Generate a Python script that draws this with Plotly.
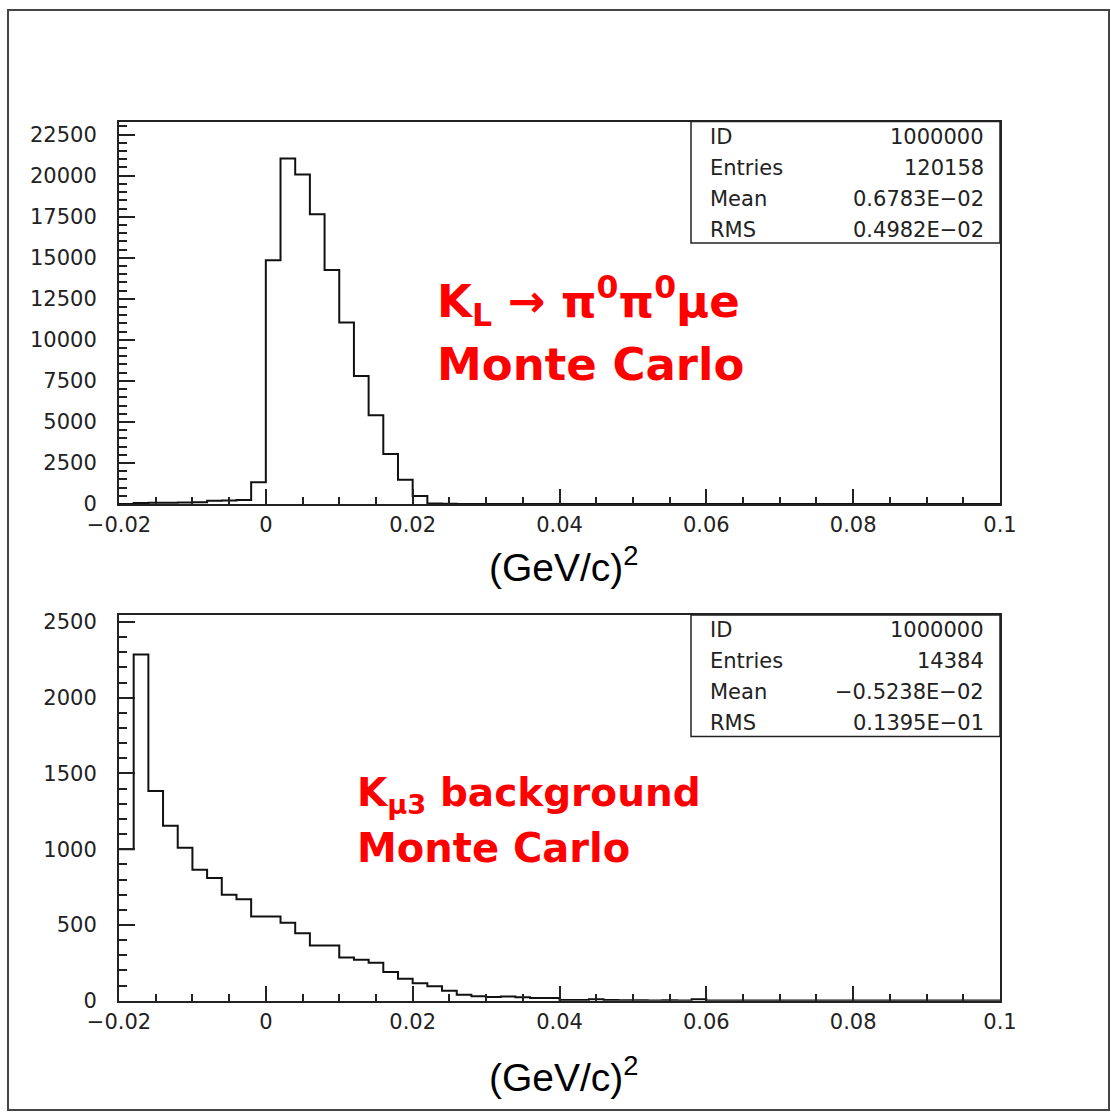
import plotly.graph_objects as go

W, H = 1111, 1116

# ---------------- data ----------------
X_MIN = -0.02
BIN_WIDTH = 0.002
N_BINS = 60

# K_L -> pi0 pi0 mu e Monte Carlo (bins of 0.002 from -0.02 to 0.1)
signal_counts = [
    0, 60, 70, 80, 90, 100, 200, 220, 250, 1320,
    14850, 21050, 20070, 17650, 14250, 11050, 7800, 5400, 3050, 1470,
    490, 30, 10, 0, 0, 0, 0, 0, 0, 0,
    0, 0, 0, 0, 0, 0, 0, 0, 0, 0,
    0, 0, 0, 0, 0, 0, 0, 0, 0, 0,
    0, 0, 0, 0, 0, 0, 0, 0, 0, 0,
]

# K_mu3 background Monte Carlo
background_counts = [
    1000, 2285, 1385, 1155, 1010, 865, 810, 700, 670, 555,
    555, 515, 445, 365, 365, 285, 270, 250, 190, 145,
    115, 95, 65, 40, 30, 25, 28, 22, 18, 18,
    5, 4, 10, 4, 3, 3, 2, 3, 2, 10,
    2, 1, 2, 1, 1, 2, 1, 1, 1, 2,
    1, 1, 1, 2, 1, 1, 1, 1, 1, 1,
]

signal_stats = [("ID", "1000000"), ("Entries", "120158"),
                ("Mean", "0.6783E\u221202"), ("RMS", "0.4982E\u221202")]
background_stats = [("ID", "1000000"), ("Entries", "14384"),
                    ("Mean", "\u22120.5238E\u221202"), ("RMS", "0.1395E\u221201")]

bin_edges = [X_MIN + i * BIN_WIDTH for i in range(N_BINS + 1)]

# ---------------- helpers ----------------
def px(x):
    return x / W

def py(y):
    return 1 - y / H

TEXT = "#222222"
TICKFONT = dict(family="DejaVu Sans", size=21, color=TEXT)

fig = go.Figure()

fig.add_trace(go.Scatter(
    x=bin_edges, y=signal_counts + [signal_counts[-1]],
    mode="lines", line=dict(shape="hv", color="#111111", width=2),
    xaxis="x", yaxis="y", showlegend=False, hoverinfo="skip"))
fig.add_trace(go.Scatter(
    x=bin_edges, y=background_counts + [background_counts[-1]],
    mode="lines", line=dict(shape="hv", color="#111111", width=2),
    xaxis="x2", yaxis="y2", showlegend=False, hoverinfo="skip"))

def xaxis_cfg(anchor):
    return dict(
        domain=[px(119), px(1000)], anchor=anchor, automargin=False,
        range=[-0.02, 0.1], tick0=0, dtick=0.02,
        ticks="inside", ticklen=15, tickwidth=1.5, tickcolor="#222",
        minor=dict(dtick=0.005, ticks="inside", ticklen=7, tickwidth=1.5, tickcolor="#222"),
        showline=True, mirror=True, linewidth=2, linecolor="#222",
        showgrid=False, zeroline=False, tickfont=TICKFONT,
        ticklabelstandoff=1,
    )

def yaxis_cfg(anchor, top, bottom, rng, dtick, mdtick):
    return dict(
        domain=[py(bottom), py(top)], anchor=anchor, automargin=False,
        range=rng, tick0=0, dtick=dtick, tickformat="d",
        ticks="inside", ticklen=16, tickwidth=1.5, tickcolor="#222",
        minor=dict(dtick=mdtick, ticks="inside", ticklen=8, tickwidth=1.5, tickcolor="#222"),
        showline=True, mirror=True, linewidth=2, linecolor="#222",
        showgrid=False, zeroline=False, tickfont=TICKFONT,
        ticklabelstandoff=16,
    )

fig.update_layout(
    width=W, height=H,
    margin=dict(l=0, r=0, t=0, b=0, pad=0, autoexpand=False),
    paper_bgcolor="white", plot_bgcolor="white",
    xaxis=xaxis_cfg("y"),
    yaxis=yaxis_cfg("x", 121.5, 504, [0, 23300], 2500, 500),
    xaxis2=xaxis_cfg("y2"),
    yaxis2=yaxis_cfg("x2", 615, 1000.7, [0, 2546], 500, 100),
)

shapes = []
annotations = []

# outer frame
shapes.append(dict(type="rect", xref="paper", yref="paper",
                   x0=px(8), x1=px(1109), y0=py(1110), y1=py(10),
                   line=dict(color="#444", width=2), fillcolor="rgba(0,0,0,0)"))

# stats boxes
def stats_box(top, rows):
    shapes.append(dict(type="rect", xref="paper", yref="paper",
                       x0=px(691), x1=px(1000), y0=py(top + 121.5), y1=py(top),
                       line=dict(color="#222", width=1.5), fillcolor="white"))
    for i, (lab, val) in enumerate(rows):
        yc = top + 15 + 31 * i
        annotations.append(dict(xref="paper", yref="paper", x=px(708), y=py(yc),
                                text=lab, showarrow=False, xanchor="left", yanchor="middle",
                                font=TICKFONT))
        annotations.append(dict(xref="paper", yref="paper", x=px(986), y=py(yc),
                                text=val, showarrow=False, xanchor="right", yanchor="middle",
                                font=TICKFONT))

stats_box(121.5, signal_stats)
stats_box(615, background_stats)

# axis titles
for yc in (564, 1074):
    annotations.append(dict(xref="paper", yref="paper", x=px(564), y=py(yc),
                            text="(GeV/c)<sup>2</sup>", showarrow=False,
                            xanchor="center", yanchor="middle",
                            font=dict(family="Liberation Sans", size=39, color="black")))

RED = dict(family="DejaVu Sans", color="#ff0000")
annotations += [
    dict(xref="paper", yref="paper", x=px(435), y=py(301),
         text="<b>K<sub>L</sub> \u2192 \u03c0<sup>0</sup>\u03c0<sup>0</sup>\u03bce</b>",
         showarrow=False, xanchor="left", yanchor="middle", font=dict(size=45, **RED)),
    dict(xref="paper", yref="paper", x=px(435), y=py(364),
         text="<b>Monte Carlo</b>",
         showarrow=False, xanchor="left", yanchor="middle", font=dict(size=45, **RED)),
    dict(xref="paper", yref="paper", x=px(355), y=py(795),
         text="<b>K<sub>\u03bc3</sub> background</b>",
         showarrow=False, xanchor="left", yanchor="middle", font=dict(size=39, **RED)),
    dict(xref="paper", yref="paper", x=px(355), y=py(848),
         text="<b>Monte Carlo</b>",
         showarrow=False, xanchor="left", yanchor="middle", font=dict(size=40, **RED)),
]

fig.update_layout(shapes=shapes, annotations=annotations)

fig.write_html("out.html")
